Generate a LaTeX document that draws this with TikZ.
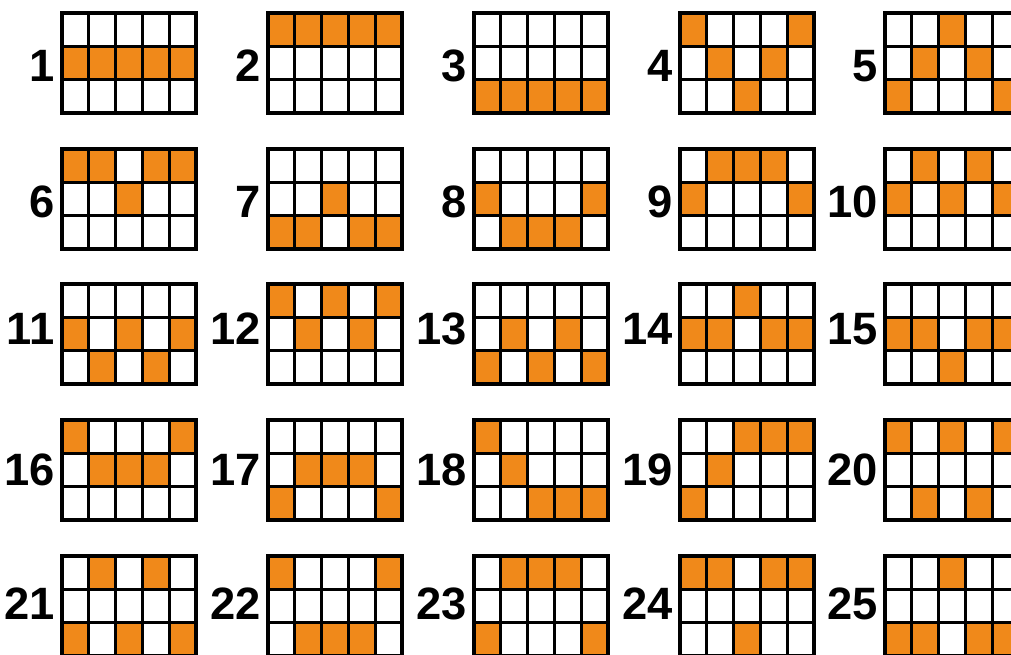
\documentclass[tikz,border=0pt]{standalone}
\usepackage{fontspec}
\setmainfont{Liberation Sans}

\definecolor{lineorange}{RGB}{240,137,26}

% one payline card: #1,#2 top left corner, #3 number, #4-#8 orange row of each reel (1 = top)
\newcommand{\payline}[8]{%
    \foreach \reel/\row in {1/#4,2/#5,3/#6,4/#7,5/#8}
        \fill[lineorange] ({#1+(\reel-1)*26.8},{#2+(\row-1)*33.33}) rectangle ++(26.8,33.33);
    \foreach \reel in {1,...,4}
        \draw[cellline] ({#1+\reel*26.8},#2) -- ++(0,100);
    \foreach \row in {1,2}
        \draw[cellline] (#1,{#2+\row*33.33}) -- ++(134,0);
    \draw[frameline] (#1,#2) rectangle ++(134,100);
    \node[reelnum] (num#3) at (#1-7,#2+\numdy) {#3};
}

\begin{document}
\begin{tikzpicture}[
    x=0.75pt, y=-0.75pt,
    cellline/.style={line width=2.4pt},
    frameline/.style={line width=3pt},
    reelnum/.style={font=\fontsize{34}{34}\selectfont\bfseries, inner sep=0pt, anchor=east}
]
    \path[use as bounding box] (0,0) rectangle (1011,655);
    \clip (0,0) rectangle (1011,655);
    \fill[white] (0,0) rectangle (1011,655);

    % Row 1
    \def\numdy{53}
    \payline{62}{13}{1}{2}{2}{2}{2}{2}
    \payline{268}{13}{2}{1}{1}{1}{1}{1}
    \payline{474}{13}{3}{3}{3}{3}{3}{3}
    \payline{680}{13}{4}{1}{2}{3}{2}{1}
    \payline{885}{13}{5}{3}{2}{1}{2}{3}

    % Row 2
    \def\numdy{53}
    \payline{62}{149}{6}{1}{1}{2}{1}{1}
    \payline{268}{149}{7}{3}{3}{2}{3}{3}
    \payline{474}{149}{8}{2}{3}{3}{3}{2}
    \payline{680}{149}{9}{2}{1}{1}{1}{2}
    \payline{885}{149}{10}{2}{1}{2}{1}{2}

    % Row 3
    \def\numdy{45}
    \payline{62}{284}{11}{2}{3}{2}{3}{2}
    \payline{268}{284}{12}{1}{2}{1}{2}{1}
    \payline{474}{284}{13}{3}{2}{3}{2}{3}
    \payline{680}{284}{14}{2}{2}{1}{2}{2}
    \payline{885}{284}{15}{2}{2}{3}{2}{2}

    % Row 4
    \def\numdy{50}
    \payline{62}{420}{16}{1}{2}{2}{2}{1}
    \payline{268}{420}{17}{3}{2}{2}{2}{3}
    \payline{474}{420}{18}{1}{2}{3}{3}{3}
    \payline{680}{420}{19}{3}{2}{1}{1}{1}
    \payline{885}{420}{20}{1}{3}{1}{3}{1}

    % Row 5 (cut off at the bottom)
    \def\numdy{48}
    \payline{62}{556}{21}{3}{1}{3}{1}{3}
    \payline{268}{556}{22}{1}{3}{3}{3}{1}
    \payline{474}{556}{23}{3}{1}{1}{1}{3}
    \payline{680}{556}{24}{1}{1}{3}{1}{1}
    \payline{885}{556}{25}{3}{3}{1}{3}{3}
\end{tikzpicture}
\end{document}
